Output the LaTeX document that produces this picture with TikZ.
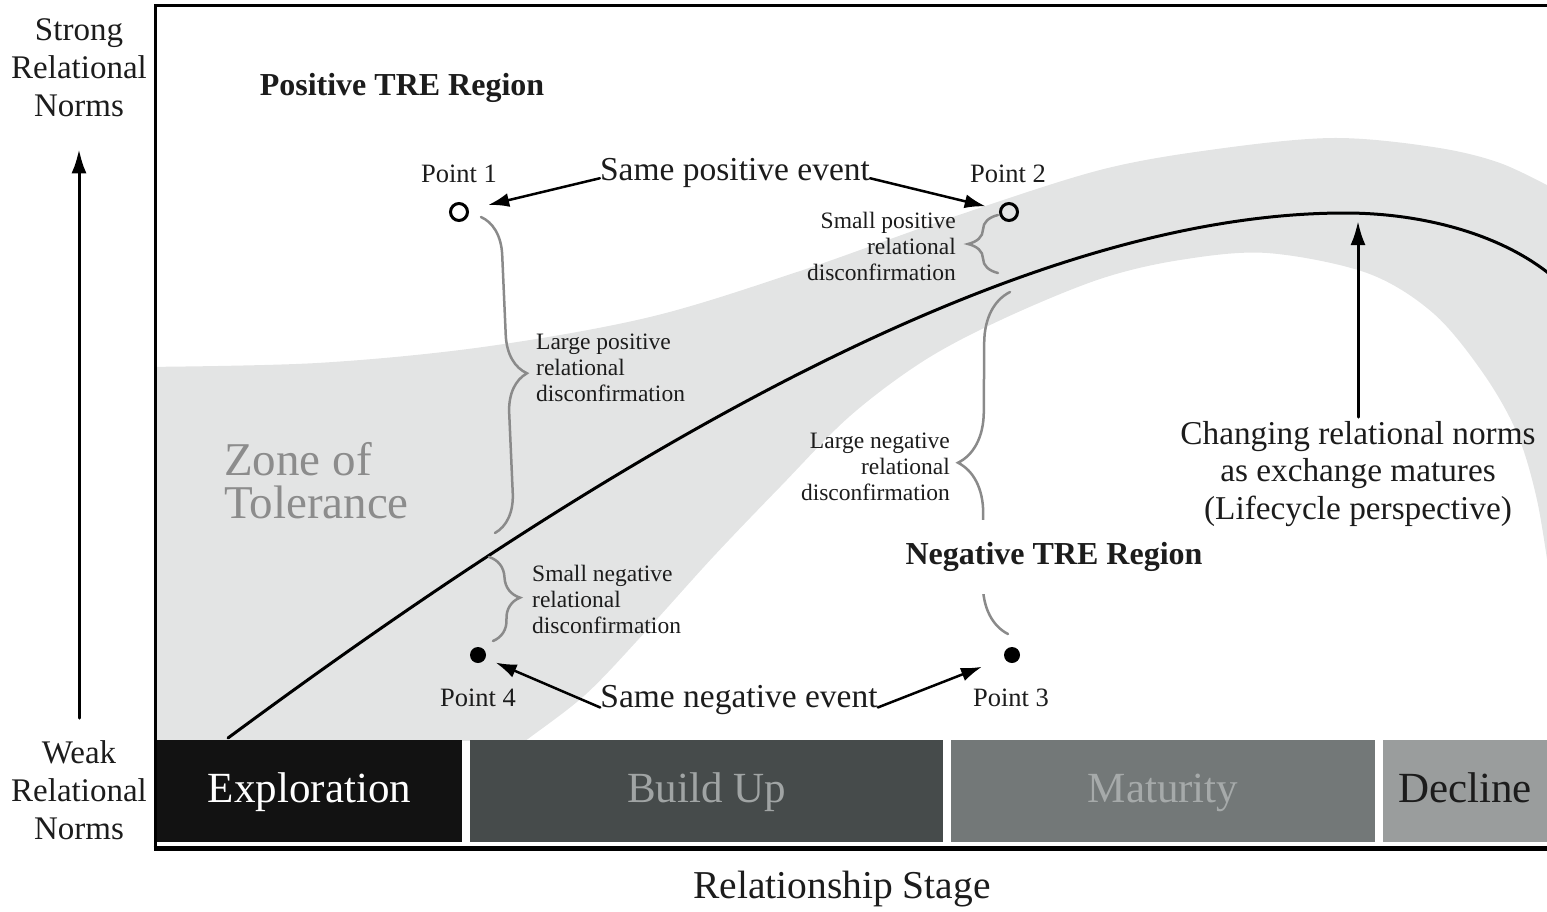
\documentclass[tikz,border=0pt]{standalone}
\usepackage{fontspec}
\setmainfont{Liberation Serif}
\usetikzlibrary{arrows.meta,positioning,decorations.pathreplacing}
\definecolor{zonegray}{HTML}{E3E4E4}
\definecolor{bracegray}{HTML}{8A8A8A}
\definecolor{inkblack}{HTML}{1C1C1C}
\definecolor{zonetxt}{HTML}{8C8C8C}
\definecolor{exploreclr}{HTML}{121212}
\definecolor{buildclr}{HTML}{464B4B}
\definecolor{buildtxt}{HTML}{A0A4A4}
\definecolor{matureclr}{HTML}{737878}
\definecolor{maturetxt}{HTML}{A6AAAA}
\definecolor{declineclr}{HTML}{9A9D9D}
\tikzset{
  stagebar/.style={minimum height=102pt, inner sep=0pt, outer sep=0pt, text height=31pt, text depth=9pt, font=\fontsize{43pt}{43pt}\selectfont},
  axislabel/.style={inner sep=0pt, align=center, text=inkblack, font=\fontsize{33pt}{38pt}\selectfont},
  region/.style={inner sep=0pt, text=inkblack, font=\fontsize{32pt}{32pt}\selectfont\bfseries},
  ptlabel/.style={inner sep=0pt, text=inkblack, font=\fontsize{26.5pt}{26.5pt}\selectfont},
  evlabel/.style={inner sep=0pt, text=inkblack, font=\fontsize{33.5pt}{33.5pt}\selectfont},
  smallnote/.style={inner sep=0pt, text=inkblack, font=\fontsize{23.5pt}{26pt}\selectfont},
  opendot/.style={circle, draw, line width=3pt, minimum size=17pt, inner sep=0pt},
  filldot/.style={circle, fill, minimum size=16pt, inner sep=0pt},
  evarrow/.style={-{Latex[length=21pt,width=14pt]}, line width=2.5pt},
  normarrow/.style={-{Latex[length=24pt,width=15pt]}, line width=3pt},
  gbrace/.style={draw=bracegray, line width=2.5pt, decorate, decoration={brace, amplitude=#1}},
  gbrace/.default=30pt
}
\begin{document}
\begin{tikzpicture}[x=1pt, y=-1pt, line cap=round]
\useasboundingbox (0,0) rectangle (1547,911);
% Zone of tolerance band
\begin{scope}
  \clip (157,5) rectangle (1547,740);
  \fill[zonegray] plot[smooth, tension=0.55] coordinates {(140,367) (317,363) (483,347) (650,317) (800,271) (950,218) (1100,170) (1217,149) (1333,138) (1433,147) (1500,163) (1560,192)}
    -- (1565,600) -- plot[smooth, tension=0.55] coordinates {(1550,580) (1537,500) (1517,433) (1483,373) (1433,313) (1367,273) (1267,253) (1180,260) (1100,279) (1005,318) (925,360) (850,416) (780,487) (713,557) (647,630) (585,695) (520,745) (505,760)}
    -- (140,760) -- cycle;
\end{scope}
% Lifecycle norms
\draw[line width=3pt] (228,738) .. controls (558,494) and (995,213) .. (1345,213)
  .. controls (1420,213) and (1500,233) .. (1552,276);
% Braces
\draw[gbrace=39pt] (481,217) -- (495,533);
\draw[gbrace=30pt] (998,273) -- (998,215);
\draw[gbrace=29pt] (489,557) -- (493,641);
\draw[gbrace=51pt] (1008,634) -- (1010,292);
% Points
\node[opendot] (p1) at (459,212) {};
\node[opendot] (p2) at (1009,212) {};
\node[filldot] (p3) at (1012,655) {};
\node[filldot] (p4) at (478,655) {};
\node[ptlabel] (p1lab) at (459,174) {Point 1};
\node[ptlabel] (p2lab) at (1008,174) {Point 2};
\node[ptlabel] (p3lab) at (1011,698) {Point 3};
\node[ptlabel] (p4lab) at (478,698) {Point 4};
% Events
\node[evlabel] (posev) at (735,173) {Same positive event};
\node[evlabel] (negev) at (739,700) {Same negative event};
\draw[evarrow, shorten >=20pt] (posev.mid west) -- (p1);
\draw[evarrow, shorten >=14pt] (posev.mid east) -- (p2);
\draw[evarrow, shorten >=11pt] (negev.base west) -- (p4);
\draw[evarrow, shorten >=24pt] (negev.base east) -- (p3);
% Notes
\node[smallnote, align=left, anchor=west] (lposnote) at (536,368) {Large positive\\relational\\disconfirmation};
\node[smallnote, align=right, anchor=east] (sposnote) at (956,246) {Small positive\\relational\\disconfirmation};
\node[smallnote, align=right, anchor=east] (lnegnote) at (950,467) {Large negative\\relational\\disconfirmation};
\node[smallnote, align=left, anchor=west] (snegnote) at (532,599) {Small negative\\relational\\disconfirmation};
\node[inner sep=0pt, align=left, anchor=west, text=zonetxt, font=\fontsize{47pt}{43pt}\selectfont] (zone) at (224,481) {Zone of\\Tolerance};
% Regions
\node[region] (posreg) at (402,88) {Positive TRE Region};
\node[region, fill=white, inner ysep=22pt, inner xsep=2pt] (negreg) at (1054,557) {Negative TRE Region};
% Changing norms
\node[evlabel, align=center, font=\fontsize{33.3pt}{37.5pt}\selectfont] (chg) at (1358,474) {Changing relational norms\\as exchange matures\\(Lifecycle perspective)};
\coordinate (peak) at (1358,221);
\draw[normarrow, shorten <=4pt] (chg.north) -- (peak);
% Axis
\node[axislabel] (strong) at (79,68) {Strong\\Relational\\Norms};
\node[axislabel] (weak) at (79,790) {Weak\\Relational\\Norms};
\draw[normarrow, shorten <=22pt, shorten >=32pt] (weak.north) -- (strong.south);
% Stages
\node[stagebar, fill=exploreclr, text=white, minimum width=305pt, anchor=north west] (expl) at (157,740) {Exploration};
\node[stagebar, fill=buildclr, text=buildtxt, minimum width=473pt, right=8pt of expl] (bup) {Build Up};
\node[stagebar, fill=matureclr, text=maturetxt, minimum width=424pt, right=8pt of bup] (mat) {Maturity};
\node[stagebar, fill=declineclr, text=inkblack, minimum width=164pt, right=8pt of mat] (dec) {Decline};
\node[evlabel, font=\fontsize{39.5pt}{39.5pt}\selectfont] (stage) at (842,889) {Relationship Stage};
% Frame
\draw[line width=3pt, line cap=butt] (1547,5) -- (155,5) -- (155,849);
\draw[line width=5pt, line cap=butt] (153.5,848) -- (1547,848);
\end{tikzpicture}
\end{document}
